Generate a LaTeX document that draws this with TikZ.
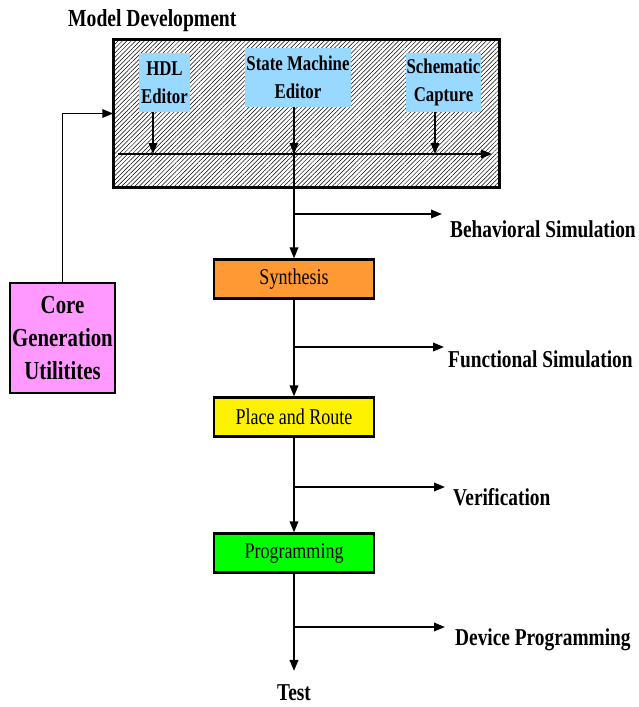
\documentclass[tikz,border=0pt]{standalone}
\usepackage{fontspec}
\setmainfont{Liberation Serif}[FakeStretch=0.8]
\usepackage{xcolor}
\usetikzlibrary{arrows.meta, positioning, patterns.meta}

\definecolor{toolblue}{RGB}{153,217,255}
\definecolor{synorange}{RGB}{255,153,51}
\definecolor{corepink}{RGB}{255,153,255}

\begin{document}
\begin{tikzpicture}[x=1pt, y=-1pt,
  >={Triangle[length=11pt,width=8.5pt]},
  flow/.style={line width=1.9pt},
  tool/.style={fill=toolblue, align=center, inner sep=0pt,
    font=\fontsize{21}{28}\selectfont\bfseries},
  stage/.style={draw, line width=2.2pt, minimum width=160pt, minimum height=39pt,
    inner sep=0pt, font=\fontsize{22.5}{27}\selectfont},
  result/.style={anchor=base west, inner sep=0pt,
    font=\fontsize{24.2}{29}\selectfont\bfseries}]

  \useasboundingbox (0,0) rectangle (639,707);

  % Model development block with its editors
  \node [anchor=base west, inner sep=0pt, font=\fontsize{24.5}{29}\selectfont\bfseries]
    (title) at (68,26) {Model Development};
  \node [draw, line width=2.2pt, minimum width=386pt, minimum height=148pt,
    pattern={Lines[angle=45,distance=3.1pt,line width=0.5pt]}]
    (mdl) at (306.5,113.5) {};
  \node [tool, minimum width=51pt, minimum height=59pt] (hdl) at (164.5,82.5)
    {HDL\\Editor};
  \node [tool, minimum width=106pt, minimum height=59pt] (sme) at (298,77.5)
    {State Machine\\Editor};
  \node [tool, minimum width=75pt, minimum height=59pt] (sch) at (443.5,82.5)
    {Schematic\\Capture};

  \coordinate (busL) at (118,154);
  \coordinate (busR) at (492,154);
  \draw [flow,->] (busL) -- (busR);
  \draw [flow,->] ([xshift=-11.5pt]hdl.south) -- ([xshift=-11.5pt]hdl.south |- busL);
  \draw [flow,->] ([xshift=-4pt]sme.south) -- ([xshift=-4pt]sme.south |- busL);
  \draw [flow,->] ([xshift=-8.5pt]sch.south) -- ([xshift=-8.5pt]sch.south |- busL);

  % Core generation feeding the model
  \node [draw, line width=2.2pt, fill=corepink, minimum width=105pt, minimum height=110pt,
    inner sep=0pt, align=center, font=\fontsize{26}{33}\selectfont\bfseries]
    (core) at (62.5,338) {Core\\Generation\\Utilitites};
  \draw [flow,->] (core.north) |- (mdl.west);

  % Implementation stages
  \node [stage, fill=synorange] (syn) at (294,279) {Synthesis};
  \node [stage, fill=yellow] (par) at (294,417) {Place and Route};
  \node [stage, fill=green] (prg) at (294,553) {Programming};
  \node [result, anchor=base] (test) at (294,700) {Test};

  \draw [flow,->] ([xshift=-4pt]sme.south) -- (syn.north);
  \draw [flow,->] (syn.south) -- (par.north);
  \draw [flow,->] (par.south) -- (prg.north);
  \draw [flow,->] (prg.south) -- ([yshift=13pt]test.north);

  % Simulation and check outputs
  \node [result] (beh) at (450,237) {Behavioral Simulation};
  \node [result] (fun) at (448,367) {Functional Simulation};
  \node [result] (ver) at (453,505) {Verification};
  \node [result] (dev) at (455,645) {Device Programming};

  \coordinate (b1) at (294,214);
  \coordinate (b2) at (294,347);
  \coordinate (b3) at (294,487);
  \coordinate (b4) at (294,627);
  \draw [flow,->,shorten >=8pt] (b1) -- (b1 -| beh.west);
  \draw [flow,->,shorten >=4pt] (b2) -- (b2 -| fun.west);
  \draw [flow,->,shorten >=8pt] (b3) -- (b3 -| ver.west);
  \draw [flow,->,shorten >=10pt] (b4) -- (b4 -| dev.west);
\end{tikzpicture}
\end{document}
